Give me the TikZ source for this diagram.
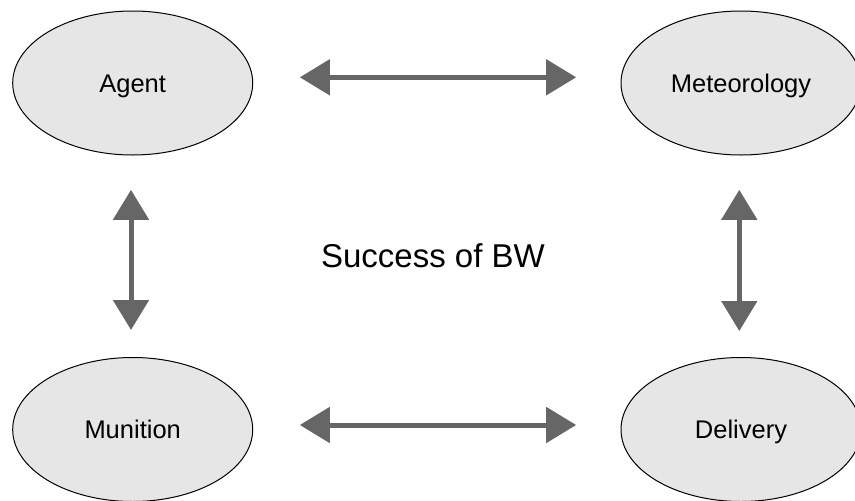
\documentclass[tikz,border=0pt]{standalone}
\usepackage{fontspec}
\setmainfont{Liberation Sans}
\usetikzlibrary{shapes.geometric,arrows.meta}
\definecolor{ellfill}{RGB}{230,230,230}
\definecolor{arrgray}{RGB}{102,102,102}
\tikzset{
  blob/.style={ellipse, draw=black, line width=1pt, fill=ellfill, minimum width=240pt, minimum height=144pt, inner sep=0pt, text height=18pt, text depth=0pt, font=\fontsize{25.5}{30}\selectfont},
  biarrow/.style={draw=arrgray, line width=5pt, {Triangle[length=30pt,width=35pt]}-{Triangle[length=30pt,width=35pt]}}
}
\begin{document}
\begin{tikzpicture}[x=1pt,y=-1pt]
\useasboundingbox (0,0) rectangle (855,501);
\node[blob] (agent) at (132.7,83) {Agent};
\node[blob] (meteo) at (741,83) {Meteorology};
\node[blob] (munition) at (132.7,429.5) {Munition};
\node[blob] (delivery) at (741,429.5) {Delivery};
\node[font=\fontsize{33}{40}\selectfont, inner sep=0pt] (success) at (433,256) {Success of BW};
\draw[biarrow, shorten <=46.6pt, shorten >=44.3pt] ([yshift=5.7pt]agent.east) -- ([yshift=5.7pt]meteo.west);
\draw[biarrow, shorten <=46.6pt, shorten >=44.3pt] ([yshift=4.5pt]munition.east) -- ([yshift=4.5pt]delivery.west);
\draw[biarrow, shorten <=34.3pt, shorten >=27pt] ([xshift=-1.7pt]agent.south) -- ([xshift=-1.7pt]munition.north);
\draw[biarrow, shorten <=34.3pt, shorten >=26pt] ([xshift=-1.7pt]meteo.south) -- ([xshift=-1.7pt]delivery.north);
\end{tikzpicture}
\end{document}
